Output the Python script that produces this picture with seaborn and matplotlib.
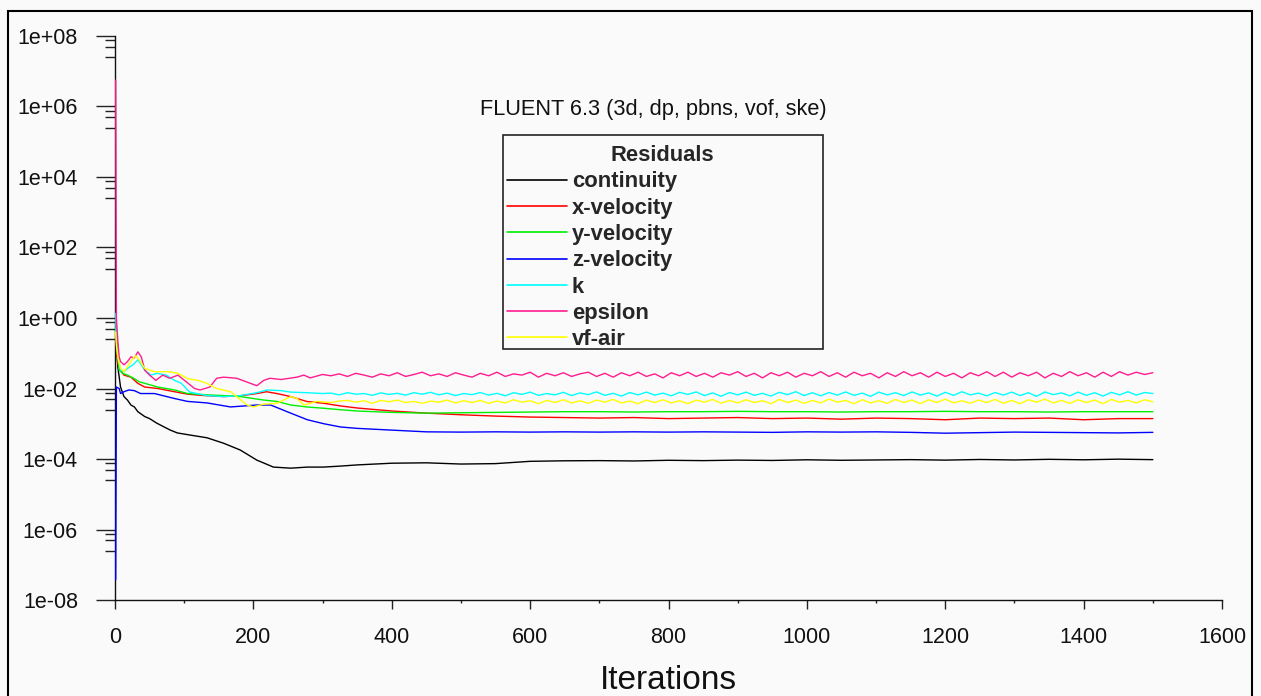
#!/usr/bin/env python3
"""Re-draw of a FLUENT 6.3 residuals monitor (log scale, 1500 iterations)."""

import matplotlib

matplotlib.use("Agg")
import matplotlib.pyplot as plt
import pandas as pd
import seaborn as sns
from matplotlib.patches import Rectangle
from matplotlib.ticker import FixedLocator, FuncFormatter, MultipleLocator, NullFormatter

# ---------------------------------------------------------------------------
# Data read off the residual monitor
# ---------------------------------------------------------------------------
SERIES_ORDER = ["continuity", "x-velocity", "y-velocity", "z-velocity", "k", "epsilon", "vf-air"]
COLORS = {
    "continuity": "#000000",
    "x-velocity": "#ff0000",
    "y-velocity": "#00f000",
    "z-velocity": "#0000ff",
    "k": "#00ffff",
    "epsilon": "#ff1c8e",
    "vf-air": "#ffff00",
}

# late part of the run, shared grids
late_iters_fine = list(range(312, 1501, 12))
late_iters_coarse = list(range(350, 1501, 50))

# continuity
continuity_iters = [1, 2, 4, 8, 13, 18, 23, 28, 33, 43, 50, 60, 70, 80, 90, 108, 133, 157, 181,
                    205, 229, 254, 278, 301, 326]
continuity_vals = [1.0, 2.0e-1, 4.2e-2, 1.1e-2, 5.9e-3, 4.7e-3, 3.4e-3, 3.0e-3, 2.2e-3, 1.6e-3,
                   1.4e-3, 1.05e-3, 8.3e-4, 6.6e-4, 5.5e-4, 4.8e-4, 4.0e-4, 2.8e-4, 1.8e-4,
                   9.3e-5, 5.9e-5, 5.5e-5, 5.9e-5, 5.9e-5, 6.3e-5]
continuity_late = [6.8e-5, 7.6e-5, 7.8e-5, 7.2e-5, 7.4e-5, 8.6e-5, 8.9e-5, 9.0e-5, 8.8e-5, 9.2e-5,
                   9.0e-5, 9.3e-5, 9.1e-5, 9.5e-5, 9.2e-5, 9.4e-5, 9.6e-5, 9.3e-5, 9.7e-5, 9.4e-5,
                   9.8e-5, 9.5e-5, 9.9e-5, 9.6e-5]

# x-velocity
xvel_iters = [1, 2, 4, 6, 13, 23, 33, 43, 62, 86, 105, 130, 157, 181, 205, 219, 234, 254, 277,
              302, 326]
xvel_vals = [1.0, 1.3e-1, 5.2e-2, 3.7e-2, 2.4e-2, 2.1e-2, 1.4e-2, 1.1e-2, 1.0e-2, 8.1e-3, 6.9e-3,
             6.3e-3, 5.9e-3, 6.2e-3, 7.2e-3, 8.1e-3, 7.2e-3, 5.9e-3, 4.3e-3, 3.8e-3, 3.2e-3]
xvel_late = [2.8e-3, 2.3e-3, 2.0e-3, 1.8e-3, 1.65e-3, 1.55e-3, 1.5e-3, 1.45e-3, 1.5e-3, 1.4e-3,
             1.45e-3, 1.5e-3, 1.4e-3, 1.45e-3, 1.35e-3, 1.45e-3, 1.4e-3, 1.3e-3, 1.45e-3, 1.4e-3,
             1.45e-3, 1.3e-3, 1.4e-3, 1.4e-3]

# y-velocity
yvel_iters = [1, 2, 4, 6, 11, 18, 28, 35, 43, 62, 86, 105, 133, 157, 181, 215, 234, 254, 277,
              302, 326]
yvel_vals = [5.0e-1, 3.0e-1, 7.9e-2, 3.3e-2, 2.7e-2, 2.4e-2, 1.9e-2, 1.55e-2, 1.4e-2, 1.1e-2,
             9.1e-3, 7.2e-3, 6.6e-3, 6.3e-3, 5.9e-3, 4.7e-3, 4.3e-3, 3.4e-3, 3.0e-3, 2.75e-3,
             2.5e-3]
yvel_late = [2.3e-3, 2.1e-3, 2.0e-3, 2.05e-3, 2.1e-3, 2.15e-3, 2.2e-3, 2.2e-3, 2.15e-3, 2.2e-3,
             2.2e-3, 2.25e-3, 2.2e-3, 2.2e-3, 2.15e-3, 2.2e-3, 2.2e-3, 2.25e-3, 2.2e-3, 2.2e-3,
             2.15e-3, 2.2e-3, 2.2e-3, 2.2e-3]

# z-velocity
zvel_iters = [1, 2, 6, 8, 13, 20, 28, 37, 57, 86, 105, 133, 167, 205, 225, 254, 278, 302, 326]
zvel_vals = [3.7e-8, 1.1e-2, 1.0e-2, 7.2e-3, 8.1e-3, 9.1e-3, 8.7e-3, 7.2e-3, 7.2e-3, 5.2e-3,
             4.3e-3, 3.9e-3, 3.0e-3, 3.4e-3, 3.4e-3, 2.0e-3, 1.3e-3, 1.0e-3, 8.1e-4]
zvel_late = [7.4e-4, 6.6e-4, 5.9e-4, 5.8e-4, 5.9e-4, 5.8e-4, 5.9e-4, 5.8e-4, 5.9e-4, 5.8e-4,
             5.9e-4, 5.8e-4, 5.7e-4, 5.9e-4, 5.8e-4, 5.9e-4, 5.7e-4, 5.4e-4, 5.6e-4, 5.8e-4,
             5.7e-4, 5.6e-4, 5.5e-4, 5.7e-4]

# k
k_iters = [1, 2, 4, 8, 13, 18, 26, 33, 38, 43, 52, 61, 74, 86, 96, 108, 133, 157, 181, 205, 220,
           240, 254, 278, 300]
k_vals = [1.35, 2.4e-1, 7.9e-2, 3.3e-2, 3.0e-2, 3.7e-2, 4.7e-2, 6.5e-2, 4.7e-2, 3.3e-2, 2.4e-2,
          2.7e-2, 2.4e-2, 1.7e-2, 1.4e-2, 7.9e-3, 6.3e-3, 5.9e-3, 6.3e-3, 7.6e-3, 9.1e-3, 8.7e-3,
          7.9e-3, 7.6e-3, 7.2e-3]
k_late = [
    7.4e-3, 6.6e-3, 7.6e-3, 6.9e-3, 7.2e-3, 6.4e-3, 7.5e-3, 6.8e-3, 7.3e-3, 6.5e-3,
    7.6e-3, 6.9e-3, 7.8e-3, 6.6e-3, 7.4e-3, 6.3e-3, 7.2e-3, 6.7e-3, 7.7e-3, 6.5e-3,
    7.3e-3, 6.2e-3, 7.6e-3, 6.8e-3, 7.9e-3, 6.4e-3, 7.2e-3, 6.6e-3, 7.8e-3, 6.3e-3,
    7.5e-3, 6.7e-3, 8.0e-3, 6.4e-3, 7.3e-3, 6.1e-3, 7.7e-3, 6.6e-3, 7.9e-3, 6.5e-3,
    7.4e-3, 6.2e-3, 7.8e-3, 6.8e-3, 8.0e-3, 6.3e-3, 7.5e-3, 6.0e-3, 7.7e-3, 6.6e-3,
    7.9e-3, 6.4e-3, 7.3e-3, 6.1e-3, 7.8e-3, 6.7e-3, 8.1e-3, 6.3e-3, 7.6e-3, 6.2e-3,
    7.7e-3, 6.5e-3, 8.0e-3, 6.4e-3, 7.4e-3, 6.0e-3, 7.9e-3, 6.6e-3, 7.6e-3, 6.3e-3,
    8.0e-3, 6.5e-3, 7.5e-3, 6.1e-3, 7.8e-3, 6.4e-3, 8.1e-3, 6.6e-3, 7.4e-3, 6.2e-3,
    7.7e-3, 6.5e-3, 7.9e-3, 6.3e-3, 7.6e-3, 6.0e-3, 8.0e-3, 6.7e-3, 7.5e-3, 6.2e-3,
    7.9e-3, 6.4e-3, 7.6e-3, 6.1e-3, 7.8e-3, 6.6e-3, 8.1e-3, 6.5e-3, 7.7e-3, 7.2e-3,
]

# epsilon
eps_iters = [1, 2, 4, 6, 8, 13, 18, 23, 28, 33, 38, 43, 50, 59, 69, 79, 91, 103, 115, 123, 137,
             147, 157, 176, 196, 205, 215, 224, 240, 263, 273, 282, 300]
eps_vals = [5.6e6, 1.0, 2.4e-1, 7.9e-2, 5.8e-2, 4.7e-2, 5.8e-2, 7.9e-2, 7.4e-2, 1.1e-1, 7.9e-2,
            3.3e-2, 2.4e-2, 1.7e-2, 2.4e-2, 1.95e-2, 2.4e-2, 1.55e-2, 1.0e-2, 9.1e-3, 1.1e-2,
            1.95e-2, 2.1e-2, 1.95e-2, 1.4e-2, 1.2e-2, 1.7e-2, 1.95e-2, 1.8e-2, 2.1e-2, 2.4e-2,
            2.0e-2, 2.5e-2]
eps_late = [
    2.3e-2, 2.6e-2, 2.2e-2, 2.7e-2, 2.4e-2, 2.1e-2, 2.6e-2, 2.3e-2, 2.8e-2, 2.2e-2,
    2.5e-2, 2.9e-2, 2.3e-2, 2.6e-2, 2.2e-2, 2.8e-2, 2.4e-2, 2.1e-2, 2.7e-2, 2.3e-2,
    2.9e-2, 2.2e-2, 2.6e-2, 2.4e-2, 2.9e-2, 2.1e-2, 2.7e-2, 2.3e-2, 2.8e-2, 2.2e-2,
    2.6e-2, 2.9e-2, 2.2e-2, 2.7e-2, 2.1e-2, 2.8e-2, 2.3e-2, 2.9e-2, 2.2e-2, 2.6e-2,
    2.0e-2, 2.8e-2, 2.3e-2, 2.9e-2, 2.2e-2, 2.7e-2, 2.1e-2, 2.8e-2, 2.4e-2, 3.0e-2,
    2.2e-2, 2.7e-2, 2.0e-2, 2.8e-2, 2.3e-2, 2.9e-2, 2.1e-2, 2.7e-2, 2.3e-2, 3.0e-2,
    2.2e-2, 2.8e-2, 2.1e-2, 2.9e-2, 2.3e-2, 2.7e-2, 2.0e-2, 2.8e-2, 2.2e-2, 3.0e-2,
    2.3e-2, 2.8e-2, 2.1e-2, 2.9e-2, 2.2e-2, 2.7e-2, 2.0e-2, 2.8e-2, 2.3e-2, 3.0e-2,
    2.2e-2, 2.9e-2, 2.1e-2, 2.8e-2, 2.3e-2, 2.9e-2, 2.0e-2, 2.7e-2, 2.2e-2, 3.0e-2,
    2.3e-2, 2.8e-2, 2.1e-2, 2.9e-2, 2.2e-2, 3.0e-2, 2.4e-2, 2.9e-2, 2.5e-2, 2.8e-2,
]

# vf-air
vf_iters = [1, 2, 4, 8, 13, 18, 26, 30, 35, 43, 57, 77, 91, 105, 120, 133, 147, 167, 191, 200,
            215, 234, 254, 263, 273, 292]
vf_vals = [4.0e-1, 1.7e-1, 7.9e-2, 3.7e-2, 3.0e-2, 4.2e-2, 7.2e-2, 8.5e-2, 6.5e-2, 3.7e-2,
           3.0e-2, 3.0e-2, 2.7e-2, 1.9e-2, 1.7e-2, 1.4e-2, 1.0e-2, 8.1e-3, 3.4e-3, 3.0e-3,
           3.6e-3, 3.8e-3, 5.9e-3, 5.2e-3, 3.4e-3, 4.3e-3]
vf_late = [
    4.0e-3, 4.4e-3, 4.6e-3, 4.1e-3, 4.5e-3, 3.8e-3, 4.6e-3, 4.2e-3, 4.7e-3, 4.0e-3,
    4.3e-3, 3.8e-3, 4.4e-3, 4.1e-3, 4.7e-3, 3.9e-3, 4.5e-3, 4.0e-3, 4.6e-3, 3.8e-3,
    4.4e-3, 3.9e-3, 4.8e-3, 4.1e-3, 4.5e-3, 3.7e-3, 4.6e-3, 4.0e-3, 4.8e-3, 3.9e-3,
    4.5e-3, 3.8e-3, 4.7e-3, 4.1e-3, 4.9e-3, 3.9e-3, 4.4e-3, 3.7e-3, 4.7e-3, 4.0e-3,
    4.8e-3, 3.9e-3, 4.5e-3, 3.7e-3, 4.7e-3, 4.1e-3, 4.9e-3, 3.8e-3, 4.6e-3, 3.9e-3,
    4.8e-3, 4.0e-3, 4.5e-3, 3.7e-3, 4.9e-3, 4.0e-3, 4.7e-3, 3.8e-3, 4.6e-3, 3.9e-3,
    5.0e-3, 4.1e-3, 4.6e-3, 3.7e-3, 4.8e-3, 3.9e-3, 4.5e-3, 3.8e-3, 4.9e-3, 4.0e-3,
    4.7e-3, 3.7e-3, 4.8e-3, 4.0e-3, 5.0e-3, 3.9e-3, 4.5e-3, 3.8e-3, 4.7e-3, 4.0e-3,
    4.9e-3, 3.8e-3, 4.6e-3, 3.7e-3, 4.8e-3, 4.1e-3, 5.0e-3, 3.9e-3, 4.6e-3, 3.8e-3,
    4.8e-3, 4.0e-3, 4.7e-3, 3.7e-3, 4.9e-3, 4.1e-3, 4.6e-3, 3.9e-3, 4.8e-3, 4.2e-3,
]

Y_MAJORS = [1e-8, 1e-6, 1e-4, 1e-2, 1e0, 1e2, 1e4, 1e6, 1e8]
TITLE = "FLUENT 6.3 (3d, dp, pbns, vof, ske)"
BG = "#fafafa"


def build_frame() -> pd.DataFrame:
    """Long-form table: one row per (series, iteration)."""
    parts = {
        "continuity": (continuity_iters + late_iters_coarse, continuity_vals + continuity_late),
        "x-velocity": (xvel_iters + late_iters_coarse, xvel_vals + xvel_late),
        "y-velocity": (yvel_iters + late_iters_coarse, yvel_vals + yvel_late),
        "z-velocity": (zvel_iters + late_iters_coarse, zvel_vals + zvel_late),
        "k": (k_iters + late_iters_fine, k_vals + k_late),
        "epsilon": (eps_iters + late_iters_fine, eps_vals + eps_late),
        "vf-air": (vf_iters + late_iters_fine, vf_vals + vf_late),
    }
    frames = []
    for name, (its, vals) in parts.items():
        assert len(its) == len(vals), name
        frames.append(pd.DataFrame({"iteration": its, "residual": vals, "series": name}))
    return pd.concat(frames, ignore_index=True)


def main():
    df = build_frame()

    sns.set_theme(style="ticks")
    plt.rcParams["font.family"] = ["Liberation Sans", "DejaVu Sans"]

    fig = plt.figure(figsize=(12.61, 6.96), dpi=100, facecolor=BG)
    ax = fig.add_axes([0.0912, 0.1379, 0.8779, 0.8104])
    ax.set_facecolor(BG)
    ax.set_yscale("log")

    sns.lineplot(
        data=df, x="iteration", y="residual", hue="series", hue_order=SERIES_ORDER,
        palette=COLORS, estimator=None, sort=False, linewidth=1.0, ax=ax, zorder=3,
    )

    ax.set_xlim(0, 1600)
    ax.set_ylim(1e-8, 1e8)

    # axes and ticks in the FLUENT style
    ax.xaxis.set_major_locator(MultipleLocator(200))
    ax.xaxis.set_minor_locator(MultipleLocator(100))
    ax.yaxis.set_major_locator(FixedLocator(Y_MAJORS))
    ax.yaxis.set_minor_locator(FixedLocator([m * f for m in Y_MAJORS for f in (0.25, 0.5, 0.75)]))
    ax.yaxis.set_major_formatter(FuncFormatter(lambda v, _: f"{v:.0e}"))
    ax.yaxis.set_minor_formatter(NullFormatter())

    ax.tick_params(axis="y", which="major", length=13.7, width=1.0, pad=13, labelsize=15.5,
                   color="#222222", labelcolor="#111111")
    ax.tick_params(axis="y", which="minor", length=7.2, width=1.0, color="#222222")
    ax.tick_params(axis="x", which="major", length=6.5, width=1.0, pad=13, labelsize=15.5,
                   color="#222222", labelcolor="#111111")
    ax.tick_params(axis="x", which="minor", length=2.4, width=1.0, color="#222222")

    sns.despine(ax=ax)
    for side in ("left", "bottom"):
        ax.spines[side].set_linewidth(1.0)
        ax.spines[side].set_color("#111111")

    ax.set_ylabel("")
    ax.set_xlabel("Iterations", fontsize=24, labelpad=12, color="#111111")

    # legend "Residuals": entries from the library, frame drawn on its own
    handles, labels = ax.get_legend_handles_labels()
    leg = ax.legend(
        handles, labels, title="Residuals", loc="upper left",
        bbox_to_anchor=(0.347, 0.445, 0.2955, 0.3746), mode="expand", borderaxespad=0,
        prop={"weight": "bold", "size": 15.8},
        title_fontproperties={"weight": "bold", "size": 15.8},
        handlelength=2.73, handletextpad=0.25, borderpad=0.34, labelspacing=0.24,
        frameon=False,
    )
    for line in leg.get_lines():
        line.set_linewidth(1.2)
    ax.add_patch(Rectangle((0.3502, 0.445), 0.2892, 0.3795, transform=ax.transAxes,
                           fill=False, linewidth=1.2, edgecolor="#222222", zorder=5))

    fig.text(0.518, 0.842, TITLE, ha="center", va="center", fontsize=15.7, color="#111111")

    # outer frame of the monitor window
    fig.patches.append(Rectangle((0.0063, -0.05), 0.9866, 1.0346, transform=fig.transFigure,
                                 fill=False, linewidth=1.5, edgecolor="black"))

    fig.savefig("out.png", dpi=100, facecolor=BG)


if __name__ == "__main__":
    main()
